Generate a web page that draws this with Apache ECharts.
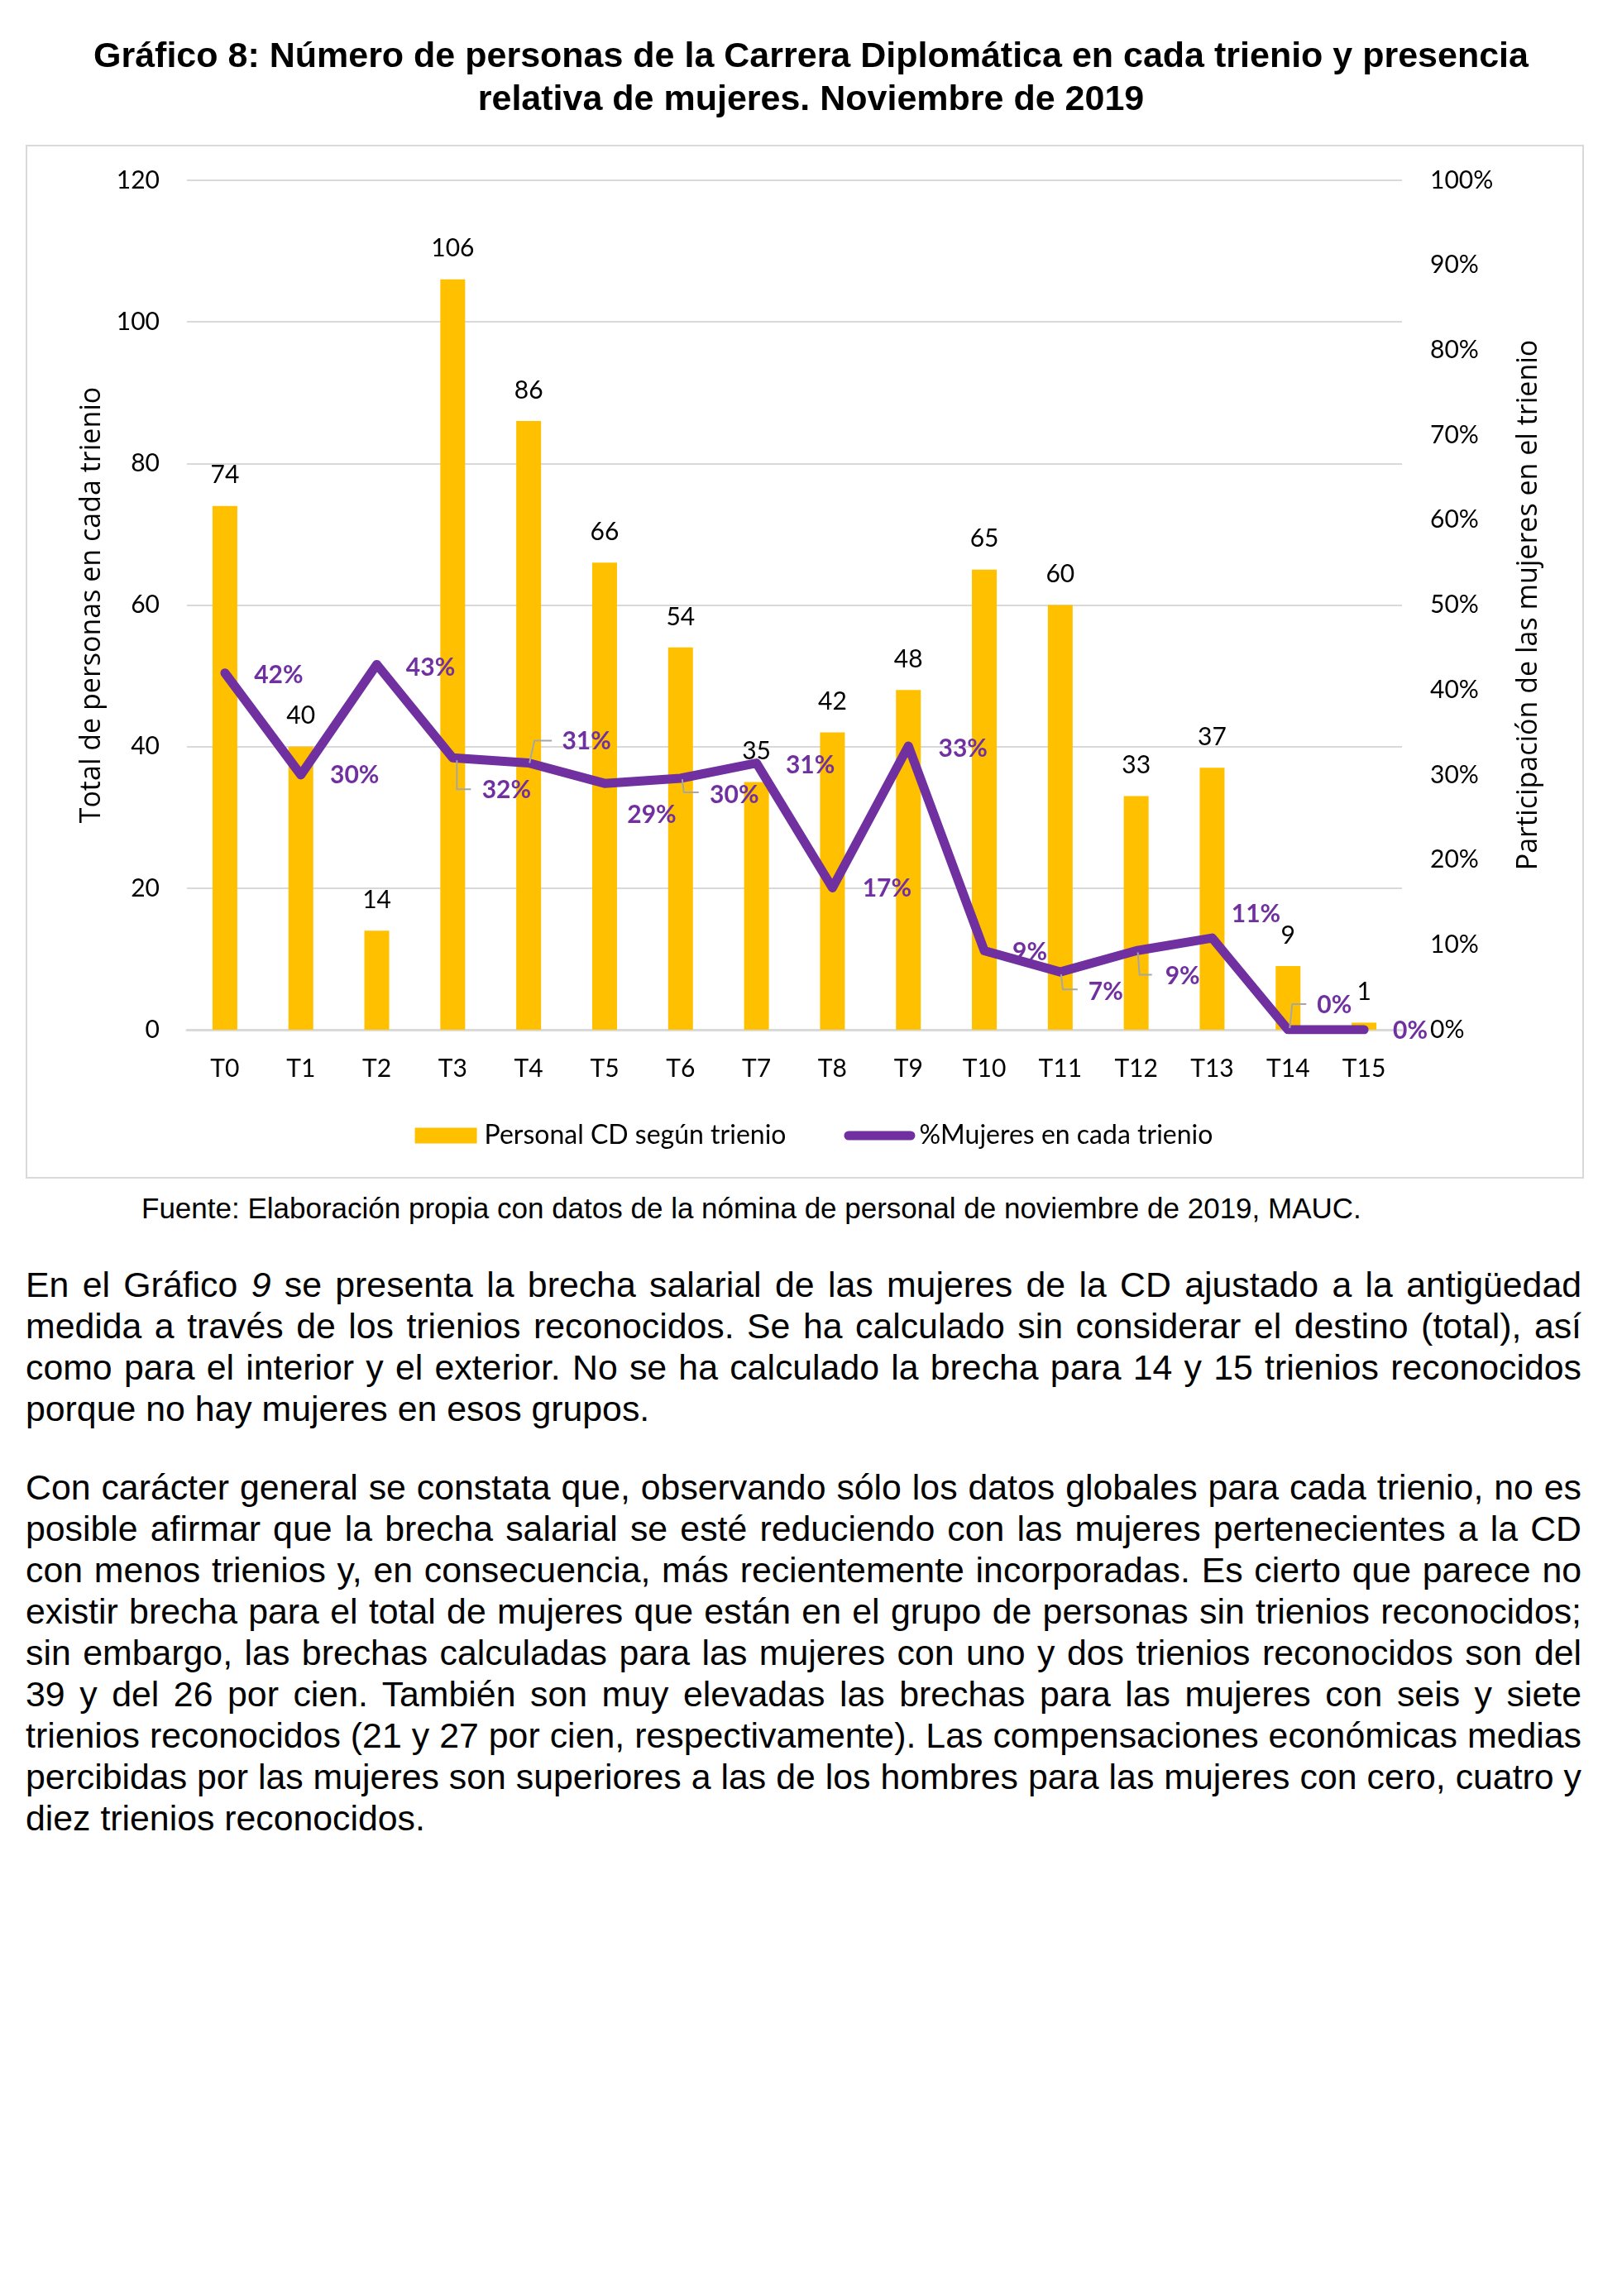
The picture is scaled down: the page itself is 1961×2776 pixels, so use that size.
<!DOCTYPE html>
<html>
<head>
<meta charset="utf-8">
<script src="https://cdn.jsdelivr.net/npm/echarts@6/dist/echarts.min.js"></script>
<style>
  html, body { margin: 0; padding: 0; background: #fff; }
  body { width: 1961px; height: 2776px; position: relative; overflow: hidden; font-family: "Liberation Sans", Arial, sans-serif; color: #000; }
  #title { position: absolute; left: 0; top: 40px; width: 1961px; text-align: center; font-weight: bold; font-size: 43px; line-height: 52px; }
  #frame { position: absolute; left: 31px; top: 175px; width: 1884px; height: 1250px; border: 2px solid #d9d9d9; box-sizing: border-box; }
  #chart { position: absolute; left: 0; top: 0; width: 1961px; height: 1440px; }
  #source { position: absolute; left: 171px; top: 1441px; font-size: 35px; line-height: 40px; white-space: nowrap; }
  .para { position: absolute; left: 31px; width: 1881px; font-size: 42.8px; line-height: 50px; }
  .para div { text-align: justify; text-align-last: justify; white-space: nowrap; }
  .para div.last { text-align: left; text-align-last: left; }
  #p1 { top: 1528px; }
  #p2 { top: 1773px; }
</style>
</head>
<body>
<div id="frame"></div>
<div id="chart"></div>
<div id="title">Gráfico 8: Número de personas de la Carrera Diplomática en cada trienio y presencia<br>relativa de mujeres. Noviembre de 2019</div>
<div id="source">Fuente: Elaboración propia con datos de la nómina de personal de noviembre de 2019, MAUC.</div>
<div class="para" id="p1">
<div>En el Gráfico <i>9</i> se presenta la brecha salarial de las mujeres de la CD ajustado a la antigüedad</div>
<div>medida a través de los trienios reconocidos. Se ha calculado sin considerar el destino (total), así</div>
<div>como para el interior y el exterior. No se ha calculado la brecha para 14 y 15 trienios reconocidos</div>
<div class="last">porque no hay mujeres en esos grupos.</div>
</div>
<div class="para" id="p2">
<div>Con carácter general se constata que, observando sólo los datos globales para cada trienio, no es</div>
<div>posible afirmar que la brecha salarial se esté reduciendo con las mujeres pertenecientes a la CD</div>
<div>con menos trienios y, en consecuencia, más recientemente incorporadas. Es cierto que parece no</div>
<div>existir brecha para el total de mujeres que están en el grupo de personas sin trienios reconocidos;</div>
<div>sin embargo, las brechas calculadas para las mujeres con uno y dos trienios reconocidos son del</div>
<div>39 y del 26 por cien. También son muy elevadas las brechas para las mujeres con seis y siete</div>
<div>trienios reconocidos (21 y 27 por cien, respectivamente). Las compensaciones económicas medias</div>
<div>percibidas por las mujeres son superiores a las de los hombres para las mujeres con cero, cuatro y</div>
<div class="last">diez trienios reconocidos.</div>
</div>
<script>
// ---- data ----
const categories = ['T0','T1','T2','T3','T4','T5','T6','T7','T8','T9','T10','T11','T12','T13','T14','T15'];
const personas = [74, 40, 14, 106, 86, 66, 54, 35, 42, 48, 65, 60, 33, 37, 9, 1];
const pctMujeres = [0.42, 0.30, 0.43, 0.32, 0.314, 0.29, 0.296, 0.314, 0.167, 0.334, 0.093, 0.068, 0.093, 0.108, 0, 0];
const leftTicks = [0, 20, 40, 60, 80, 100, 120];
const rightTicks = ['0%','10%','20%','30%','40%','50%','60%','70%','80%','90%','100%'];
const seriesNames = ['Personal CD según trienio', '%Mujeres en cada trienio'];

// ---- styling: label offsets (px) relative to each point, and leader lines ----
const labelOffsets = [[65,3],[65,0],[65,4],[65,39],[70,-26],[57,38],[65,20],[65,3],[66,1],[66,3],[55,2],[55,24],[56,31],[53,-29],[56,-30],[56,1]];
const leaders = {3: [[5,3],[5,38],[22,38]], 4: [[1,0],[7,-27],[28,-27]], 6: [[2,1],[4,17],[22,17]],
                 11: [[1,3],[3,21],[21,21]], 12: [[2,2],[4,29],[19,29]], 14: [[2,-2],[5,-31],[22,-31]]};

const PURPLE = '#7030A0', GOLD = '#FFC000', GRID = '#D9D9D9';
const chart = echarts.init(document.getElementById('chart'), null, {renderer: 'canvas'});
chart.setOption({
  animation: false,
  grid: { left: 226, right: 266, top: 218, bottom: 195, containLabel: false },
  legend: {
    data: [
      {name: seriesNames[0], icon: 'path://M0,0 M86,19 M7,0 L82,0 L82,19 L7,19 Z'},
      {name: seriesNames[1], icon: 'path://M0,0 M86,19 M5.5,4 L80.5,4 A5.5,5.5 0 0 1 80.5,15 L5.5,15 A5.5,5.5 0 0 1 5.5,4 Z'}
    ],
    left: 'center', top: 1352,
    itemWidth: 86, itemHeight: 19, itemGap: 70,
    textStyle: { fontFamily: 'Lato', fontSize: 32, color: '#000' }
  },
  xAxis: {
    type: 'category', data: categories,
    axisLine: { lineStyle: { color: GRID, width: 3 } },
    axisTick: { show: false },
    axisLabel: { fontFamily: 'Lato', fontSize: 30, color: '#000', margin: 32 }
  },
  yAxis: [
    { type: 'value', min: leftTicks[0], max: leftTicks[leftTicks.length-1], interval: 20,
      name: 'Total de personas en cada trienio', nameLocation: 'middle', nameGap: 98, nameRotate: 90,
      nameTextStyle: { fontFamily: 'Open Sans', fontSize: 34, color: '#000' },
      axisLine: { show: false }, axisTick: { show: false },
      splitLine: { lineStyle: { color: GRID, width: 2 } },
      axisLabel: { fontFamily: 'Lato', fontSize: 30, color: '#000', margin: 33 } },
    { type: 'value', min: 0, max: 1, interval: 0.1,
      name: 'Participación de las mujeres en el trienio', nameLocation: 'middle', nameGap: 136, nameRotate: 90,
      nameTextStyle: { fontFamily: 'Open Sans', fontSize: 34, color: '#000' },
      axisLine: { show: false }, axisTick: { show: false }, splitLine: { show: false },
      axisLabel: { fontFamily: 'Lato', fontSize: 30, color: '#000', margin: 34,
        formatter: (v) => rightTicks[Math.round(v * 10)] } }
  ],
  series: [
    { name: seriesNames[0], type: 'bar', data: personas, barWidth: 30, itemStyle: { color: GOLD },
      label: { show: true, position: 'top', distance: 22, fontFamily: 'Lato', fontSize: 30, color: '#000' }, z: 2 },
    { name: seriesNames[1], type: 'line', yAxisIndex: 1, data: pctMujeres, symbol: 'none',
      lineStyle: { color: PURPLE, width: 11, cap: 'round', join: 'round' }, itemStyle: { color: PURPLE }, z: 3 },
    { name: 'labels', type: 'custom', yAxisIndex: 1, z: 4, silent: true,
      data: pctMujeres.map((v, i) => [i, v]),
      renderItem: function (params, api) {
        const i = api.value(0), v = api.value(1);
        const pt = api.coord([i, v]);
        const off = labelOffsets[i];
        const children = [];
        if (leaders[i]) {
          children.push({ type: 'polyline', shape: { points: leaders[i].map(d => [pt[0] + d[0], pt[1] + d[1]]) },
            style: { stroke: '#A6A6A6', lineWidth: 2, fill: null } });
        }
        children.push({ type: 'text', x: pt[0] + off[0], y: pt[1] + off[1],
          style: { text: Math.round(v * 100) + '%', fill: PURPLE, font: 'bold 30px Lato', align: 'center', verticalAlign: 'middle' } });
        return { type: 'group', children: children };
      } }
  ]
});
</script>
</body>
</html>
